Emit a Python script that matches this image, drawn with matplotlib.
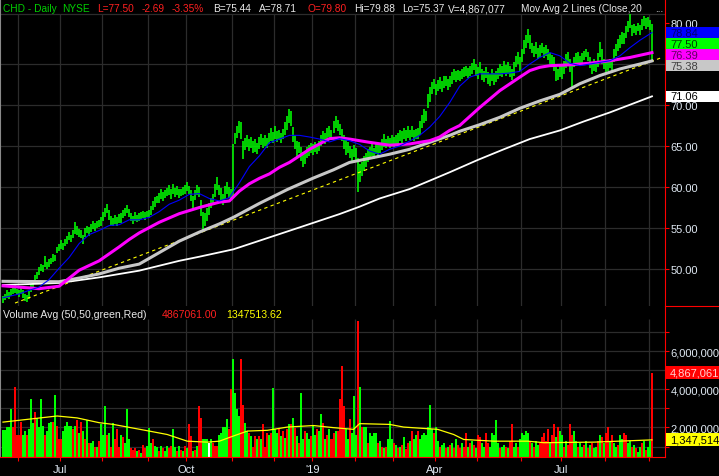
import matplotlib
matplotlib.use("Agg")
import matplotlib.pyplot as plt
from matplotlib.lines import Line2D
from matplotlib.patches import Rectangle
from matplotlib.ticker import FuncFormatter

plt.rcParams["font.family"] = ["Liberation Sans", "DejaVu Sans"]

W, H = 719, 477

# daily bars, index 0 = first session shown (late May 2018)
bar_low = [
    45.9, 46.2, 46.5, 46.3, 46.7, 46.9, 47.1, 46.8, 46.6, 46.9,
    46.5, 46.1, 46.0, 46.4, 47.2, 47.8, 48.4, 48.8, 49.3, 49.8,
    49.6, 50.2, 50.0, 50.3, 50.6, 50.9, 51.0, 51.9, 52.2, 52.5,
    52.3, 52.8, 53.1, 53.5, 53.3, 53.8, 54.3, 54.2, 53.9, 53.8,
    53.0, 53.9, 54.4, 54.0, 54.5, 54.9, 54.6, 55.0, 55.1, 55.3,
    55.8, 56.3, 56.8, 56.0, 55.4, 55.2, 55.5, 55.3, 55.6, 55.6,
    56.2, 56.5, 56.8, 56.4, 55.8, 55.5, 55.9, 55.7, 55.9, 56.1,
    56.2, 56.0, 56.3, 56.2, 56.6, 57.2, 57.6, 58.0, 58.1, 58.6,
    58.3, 58.7, 58.9, 59.0, 58.6, 59.2, 58.8, 59.0, 58.7, 58.9,
    59.0, 59.2, 59.5, 59.1, 58.3, 57.4, 58.4, 59.0, 58.8, 56.5,
    54.7, 55.2, 55.8, 56.6, 57.4, 58.0, 58.8, 59.6, 59.0, 58.4,
    57.8, 58.6, 59.2, 58.7, 58.5, 58.9, 65.2, 66.0, 66.6, 65.8,
    63.4, 64.5, 64.9, 64.4, 64.8, 64.1, 64.3, 64.0, 64.6, 65.1,
    64.8, 65.0, 64.7, 65.3, 65.6, 65.4, 65.9, 65.5, 65.7, 65.4,
    65.8, 66.3, 67.0, 67.8, 67.4, 65.5, 64.6, 63.7, 64.2, 63.2,
    62.4, 62.8, 63.5, 63.8, 64.1, 63.9, 64.3, 64.0, 64.4, 65.0,
    65.5, 65.3, 65.8, 66.1, 65.9, 66.6, 67.2, 66.8, 66.3, 65.6,
    64.6, 63.9, 64.2, 63.5, 63.0, 63.7, 63.3, 59.4, 60.6, 61.3,
    62.0, 62.5, 63.0, 63.5, 63.8, 63.4, 64.0, 63.8, 64.2, 64.5,
    64.9, 64.7, 65.0, 64.8, 65.1, 64.9, 65.2, 65.3, 65.6, 65.4,
    65.9, 65.6, 66.0, 65.7, 66.1, 65.6, 65.9, 65.8, 66.4, 67.2,
    67.8, 68.0, 69.6, 70.4, 71.4, 71.9, 71.2, 71.7, 72.0, 71.6,
    72.1, 72.3, 71.8, 72.2, 72.6, 73.0, 72.8, 73.1, 72.9, 73.2,
    73.4, 73.6, 73.3, 73.5, 73.8, 74.3, 73.6, 73.2, 73.9, 73.0,
    72.8, 73.3, 72.6, 72.3, 72.9, 72.5, 72.8, 73.2, 73.6, 73.4,
    73.9, 73.5, 73.8, 73.4, 73.0, 73.6, 74.6, 75.0, 74.2, 75.3,
    76.2, 77.0, 77.6, 76.8, 76.3, 75.8, 76.2, 75.6, 75.9, 76.3,
    75.7, 76.0, 75.5, 75.0, 74.6, 74.2, 72.9, 73.0, 73.4, 73.2,
    73.8, 74.5, 74.9, 74.0, 72.0, 74.6, 74.9, 75.1, 74.8, 75.0,
    75.5, 75.8, 75.4, 74.5, 73.8, 74.2, 74.0, 74.6, 75.8, 75.0,
    74.4, 73.8, 74.1, 74.5, 74.2, 75.2, 76.0, 76.6, 77.0, 77.5,
    77.4, 78.2, 78.9, 79.4, 78.4, 78.8, 78.5, 79.0, 78.6, 79.2,
    79.6, 79.3, 79.5, 79.1, 75.37,
]
bar_high = [
    46.7, 47.0, 47.4, 47.2, 47.6, 47.9, 48.0, 47.6, 47.5, 47.7,
    47.4, 46.9, 46.8, 47.3, 48.2, 48.7, 49.3, 49.6, 50.2, 50.6,
    50.5, 51.6, 50.9, 51.2, 51.4, 51.8, 51.7, 52.7, 53.0, 53.5,
    53.2, 53.7, 54.0, 54.5, 54.2, 54.8, 55.7, 55.3, 54.9, 54.8,
    54.2, 55.0, 55.3, 55.1, 55.5, 55.9, 55.6, 55.8, 56.0, 56.3,
    56.9, 57.5, 57.9, 57.2, 56.5, 56.2, 56.6, 56.3, 56.7, 56.8,
    57.2, 57.5, 57.8, 57.3, 56.8, 56.5, 56.9, 56.6, 56.8, 56.9,
    57.1, 57.0, 57.1, 57.2, 57.7, 58.3, 58.8, 58.9, 59.3, 59.8,
    59.4, 59.6, 59.9, 60.2, 59.8, 60.4, 59.9, 60.1, 59.7, 59.8,
    60.0, 60.3, 60.6, 60.1, 59.6, 58.9, 59.6, 60.2, 60.0, 58.4,
    57.0, 56.8, 57.4, 58.0, 58.7, 59.2, 60.4, 61.2, 60.3, 59.9,
    59.2, 60.1, 60.6, 60.0, 59.8, 65.3, 66.6, 67.5, 68.1, 67.9,
    65.6, 66.0, 66.3, 65.9, 66.1, 65.6, 65.8, 65.4, 66.1, 66.5,
    66.0, 66.3, 66.0, 66.6, 67.2, 66.7, 67.4, 66.8, 67.0, 66.6,
    67.1, 67.9, 68.7, 69.5, 69.3, 67.3, 66.3, 65.6, 65.5, 64.9,
    64.3, 64.4, 64.9, 65.1, 65.4, 65.2, 65.5, 65.3, 65.6, 66.3,
    66.8, 66.6, 67.2, 67.4, 67.0, 68.0, 68.7, 68.2, 67.7, 67.1,
    66.4, 65.7, 65.5, 65.0, 64.6, 65.1, 64.7, 63.5, 62.8, 63.1,
    63.8, 64.2, 64.6, 64.9, 65.3, 64.8, 65.5, 65.1, 65.4, 65.9,
    66.5, 65.9, 66.2, 66.0, 66.4, 66.1, 66.3, 66.6, 67.0, 66.8,
    67.2, 66.9, 67.5, 67.0, 67.4, 67.0, 67.1, 67.2, 68.0, 68.8,
    69.5, 69.3, 71.4, 72.2, 72.8, 73.2, 72.6, 73.1, 73.4, 72.9,
    73.5, 73.6, 73.2, 73.5, 74.0, 74.4, 74.1, 74.3, 74.2, 74.4,
    74.6, 74.8, 74.5, 74.7, 75.1, 75.6, 75.0, 74.6, 75.2, 74.4,
    74.1, 74.6, 74.0, 73.8, 74.4, 73.9, 74.1, 74.5, 75.0, 74.8,
    75.4, 74.9, 75.2, 74.7, 74.4, 75.2, 76.0, 76.5, 75.8, 76.8,
    77.9, 78.6, 79.3, 78.5, 77.6, 77.2, 77.7, 77.0, 77.3, 77.6,
    77.1, 77.3, 76.8, 76.4, 76.1, 75.8, 74.6, 74.4, 74.8, 74.7,
    75.4, 76.2, 76.5, 75.6, 74.9, 75.9, 76.3, 76.5, 76.0, 76.3,
    76.6, 76.8, 76.5, 75.9, 75.3, 75.6, 75.4, 76.3, 77.7, 76.8,
    75.6, 75.2, 75.5, 75.6, 75.5, 76.8, 77.5, 78.0, 78.6, 78.9,
    78.8, 79.6, 80.3, 81.1, 79.8, 79.9, 79.6, 80.0, 79.8, 80.5,
    80.8, 80.6, 80.7, 80.4, 79.88,
]

# volume in millions of shares, and the bar colour code (G up, R down, W flat)
volume_m = [
    1.85, 1.85, 2.0, 2.0, 2.95, 2.0, 4.1, 1.6, 1.6, 2.3,
    1.6, 1.8, 1.6, 1.9, 3.5, 2.25, 2.8, 2.5, 2.0, 3.5,
    2.07, 1.6, 1.8, 2.25, 2.3, 2.3, 3.7, 2.1, 1.4, 1.37,
    1.8, 2.07, 2.3, 2.07, 2.07, 1.9, 2.07, 2.4, 1.72, 2.3,
    1.8, 1.37, 2.4, 1.2, 1.2, 1.3, 1.0, 1.0, 1.3, 2.2,
    1.6, 3.1, 1.6, 1.72, 1.0, 2.25, 1.37, 1.9, 1.0, 1.6,
    1.5, 1.2, 2.95, 1.37, 0.93, 0.84, 0.93, 0.75, 0.84, 0.66,
    1.1, 0.93, 1.02, 1.97, 1.2, 1.37, 1.02, 1.0, 0.75, 1.02,
    0.93, 0.75, 1.02, 0.93, 1.02, 1.9, 1.0, 0.75, 1.02, 0.84,
    0.75, 1.02, 0.93, 2.16, 1.55, 0.75, 0.84, 1.02, 3.1, 2.5,
    1.37, 1.37, 1.37, 1.2, 1.37, 1.2, 1.02, 1.02, 1.6, 1.72,
    2.0, 2.0, 2.42, 1.9, 4.0, 5.6, 3.8, 2.95, 2.6, 5.58,
    3.2, 2.25, 1.8, 1.72, 1.55, 1.0, 1.55, 1.37, 1.55, 1.37,
    2.16, 1.0, 1.72, 1.6, 1.72, 4.09, 1.9, 1.72, 1.97, 1.55,
    1.8, 1.45, 1.9, 2.16, 2.16, 2.5, 1.97, 1.55, 1.2, 3.83,
    1.37, 1.8, 1.72, 1.37, 1.55, 2.07, 1.6, 1.9, 1.8, 2.68,
    2.25, 1.37, 1.6, 1.9, 1.37, 1.72, 1.8, 1.8, 3.47, 5.23,
    3.12, 1.9, 1.37, 2.42, 1.7, 3.65, 1.6, 7.6,
    4.1, 2.0, 2.0, 2.0, 1.2, 1.72, 1.55, 1.7, 1.7, 1.2, 1.3, 1.0,
    0.9, 1.0, 1.4, 2.33, 1.4, 1.2, 1.1, 0.9, 1.0, 1.1,
    1.5, 0.85, 1.2, 1.3, 1.8, 1.4, 1.6, 1.8, 1.4, 1.6,
    1.7, 1.6, 2.0, 3.2, 1.9, 1.7, 2.0, 1.3, 1.0, 1.1,
    1.2, 0.9, 1.0, 1.1, 1.2, 0.9, 1.4, 1.1, 0.9, 1.2,
    1.0, 1.72, 1.0, 1.2, 1.3, 1.1, 0.9, 1.6, 1.5, 1.2,
    1.0, 1.7, 1.2, 1.0, 1.72, 1.6, 2.4, 1.2, 0.9, 1.0,
    1.1, 1.0, 0.9, 1.3, 2.16, 1.0, 1.2, 1.0, 1.4, 1.7,
    1.6, 1.8, 1.7, 1.3, 1.2, 1.0, 1.3, 1.1, 1.2, 1.5,
    1.7, 1.3, 1.9, 1.2, 1.6, 2.16, 1.5, 2.0, 1.8, 1.6,
    1.0, 1.3, 1.1, 2.16, 1.6, 1.8, 1.3, 1.0, 1.2, 1.0,
    1.1, 1.3, 0.9, 1.1, 1.2, 0.9, 1.0, 1.3, 1.6, 1.5,
    1.2, 1.7, 2.0, 1.3, 1.6, 1.2, 1.0, 1.1, 1.6, 1.4,
    1.7, 1.6, 1.2, 1.3, 1.0, 1.1, 0.9, 0.7, 1.0, 1.2,
    1.3, 0.8, 1.0, 1.3, 4.867061,
]
volume_dir = (
    "GGGGGRRRRR" "GGRGGGRGGG" "GRGGGRGRRR" "GGGGGRGRGR" "GRGRGGRGRG"
    "GGRGRGRRRG" "RGGGRRRGRG" "RRGGGRGGRG" "RGGRRGGRGR" "GRGRRGRGRR"
    "GGGWGRRRGG" "GGGRRGGGGR" "RGGRGRRGRG" "RRRGRGGGRG" "RGRGRGRGRG"
    "GRGGRGGRGG" "RGRGRRGRRR" "RGGRGGGR" "GRGGRGGGGRGR"
    "GRGGGRGRGR" "GRRGRGGRGG" "GGGGGRGGRG" "GRGRGRGRRG" "RRGRGRGRRG"
    "GRRGGGGGRG" "GRGRRGGRGG" "GGGRGRGGRR" "RRRGRRGRGG" "RGRRRGGRGG"
    "RGRGRGGRGR" "GRRGRGGRGG" "RRGGRGRGGR" "GRGGR"
)

# moving averages (bar index, price)
ma20_x = [0, 8, 13, 18, 23, 28, 33, 38, 43, 48, 53, 58, 63, 68, 73, 78, 83, 88, 93, 98,
          103, 108, 113, 118, 123, 128, 133, 138, 143, 148, 153, 158, 163, 168, 173, 178,
          183, 188, 193, 198, 203, 208, 213, 218, 223, 228, 233, 238, 243, 248, 253, 258,
          263, 268, 273, 278, 283, 288, 293, 298, 303, 308, 313, 318, 324]
ma20 = [46.5, 46.95, 47.4, 47.8, 48.7, 50.1, 51.4, 53.1, 54.2, 54.7, 55.3, 55.4, 56.0, 56.0,
        56.3, 57.0, 57.9, 58.4, 59.1, 59.2, 58.6, 58.3, 58.7, 60.5, 62.5, 63.8, 65.4, 65.85,
        66.3, 66.3, 66.1, 65.85, 65.5, 65.9, 65.65, 65.2, 64.4, 64.0, 64.6, 65.0, 65.6, 66.3,
        67.3, 68.6, 70.3, 72.3, 73.4, 73.8, 73.8, 73.8, 73.9, 74.1, 75.0, 75.8, 76.4, 76.0,
        75.1, 74.8, 75.0, 75.2, 75.4, 76.0, 77.0, 77.9, 78.84]
ma50_x = [0, 18, 28, 38, 48, 58, 63, 68, 78, 88, 98, 108, 113, 118, 123, 128, 133, 138, 143,
          148, 153, 158, 163, 168, 173, 183, 193, 203, 208, 213, 218, 223, 228, 238, 248, 258,
          263, 268, 273, 283, 293, 303, 313, 324]
ma50 = [47.95, 47.6, 47.9, 49.85, 51.0, 52.7, 53.6, 54.4, 55.7, 56.75, 57.5, 58.15, 58.3, 59.5,
        60.4, 61.06, 61.6, 62.4, 63.0, 63.8, 64.6, 65.25, 65.9, 66.0, 65.85, 65.45, 65.1, 65.25,
        65.45, 65.65, 66.1, 66.9, 67.5, 69.7, 71.75, 73.4, 74.2, 74.6, 74.8, 74.9, 75.1, 75.4,
        75.8, 76.39]
ma100_x = [0, 28, 38, 48, 58, 68, 78, 88, 98, 108, 115, 128, 142, 155, 165, 173, 183, 193, 203,
           213, 223, 228, 238, 248, 258, 268, 278, 288, 298, 308, 318, 324]
ma100 = [48.5, 48.45, 48.9, 49.4, 50.1, 50.6, 52.0, 53.4, 54.5, 55.5, 56.3, 58.0, 59.7, 61.1,
         62.1, 63.0, 63.5, 64.0, 64.6, 65.45, 66.3, 66.8, 67.6, 68.5, 69.6, 70.5, 71.3, 72.6,
         73.6, 74.4, 75.0, 75.38]
ma200_x = [0, 28, 48, 68, 88, 98, 115, 128, 148, 168, 178, 188, 203, 213, 223, 237, 250, 263,
           278, 290, 303, 324]
ma200 = [48.05, 48.3, 48.98, 49.8, 51.0, 51.5, 52.4, 53.45, 55.07, 56.7, 57.6, 58.6, 59.75,
         60.77, 61.8, 63.3, 64.6, 65.85, 66.9, 68.0, 69.1, 71.06]
trend_x = [6, 329]
trend_y = [45.85, 75.8]

vol_avg_x = [0, 27, 37, 48, 55, 73, 82, 92, 102, 108, 115, 122, 132, 142, 155, 165, 175, 178,
             193, 200, 217, 225, 230, 245, 262, 270, 295, 324]
vol_avg = [2.28, 2.6, 2.5, 2.25, 2.16, 1.81, 1.63, 1.28, 1.23, 1.28, 1.55, 1.81, 1.85, 2.02,
           2.1, 1.99, 1.9, 2.2, 2.16, 2.02, 1.9, 1.63, 1.37, 1.28, 1.28, 1.2, 1.23, 1.347514]

# first session of each month (bar boundaries)
month_x = [7.5, 28.5, 49.5, 72.5, 91.5, 114.5, 135.5, 154.5, 175.5, 194.5, 215.5, 236.5,
           258.5, 278.5, 300.5, 322.5]
month_labels = ["", "Jul", "", "", "Oct", "", "", "'19", "", "", "Apr", "", "", "Jul", "", ""]
price_ticks = [50, 55, 60, 65, 70, 75, 80]
volume_ticks = [1, 2, 3, 4, 5, 6, 7]

last_close = 77.50

GRID = "#2c2c2c"
AXIS_RED = "#ff0000"
LABEL = "#dfe8f2"
UP = "#00ff00"
DOWN = "#ff0000"
dir_colors = {"G": UP, "R": DOWN, "W": "#ffffff"}

fig = plt.figure(figsize=(W / 100, H / 100), dpi=100, facecolor="black")
ax_p = fig.add_axes([0, 1 - 307 / H, 665 / W, 307 / H], facecolor="black")
ax_v = fig.add_axes([0, 1 - 458 / H, 665 / W, 151 / H], facecolor="black")

x_lo, x_hi = -1.5, 330.5
p_lo, p_hi = 45.49, 82.93
v_lo, v_hi = 0.45, 8.37

# ---- price panel
ax_p.set_xlim(x_lo, x_hi)
ax_p.set_ylim(p_lo, p_hi)
ax_p.vlines(month_x, p_lo, 81.1, color=GRID, lw=0.9, zorder=0)
ax_p.hlines(price_ticks[:-1], x_lo, x_hi, color=GRID, lw=0.9, zorder=0)
ax_p.axhline(81.1, color=GRID, lw=0.9, zorder=0)

bars = list(range(len(bar_low)))
ax_p.vlines(bars, bar_low, bar_high, color=UP, lw=1.15, zorder=2)

ax_p.plot(trend_x, trend_y, color="#ffff00", lw=0.8, dashes=(3, 3), zorder=3)
ax_p.plot(ma200_x, ma200, color="white", lw=1.3, zorder=3)
ax_p.plot(ma100_x, ma100, color="#c8c8c8", lw=2.2, zorder=3)
ax_p.plot(ma50_x, ma50, color="#ff00ff", lw=2.2, zorder=4)
ax_p.plot(ma20_x, ma20, color="#0000ff", lw=0.8, zorder=5)

ax_p.set_xticks([])
ax_p.yaxis.tick_right()
ax_p.set_yticks(price_ticks)
ax_p.yaxis.set_major_formatter(FuncFormatter(lambda v, _: f"{v:.2f}"))
ax_p.tick_params(axis="y", length=3, width=0.8, color=AXIS_RED, labelcolor=LABEL,
                 labelsize=8, pad=1)

# ---- volume panel
ax_v.set_xlim(x_lo, x_hi)
ax_v.set_ylim(v_lo, v_hi)
ax_v.vlines(month_x, v_lo, 7.7, color=GRID, lw=0.9, zorder=0)
ax_v.hlines(volume_ticks, x_lo, x_hi, color=GRID, lw=0.9, zorder=0)
ax_v.bar(bars, volume_m, width=1.0, bottom=0, color=[dir_colors[c] for c in volume_dir],
         linewidth=0, zorder=2)
ax_v.plot(vol_avg_x, vol_avg, color="#ffff00", lw=0.9, zorder=3)

ax_v.yaxis.tick_right()
ax_v.set_yticks(volume_ticks)
ax_v.yaxis.set_major_formatter(
    FuncFormatter(lambda v, _: f"{int(round(v * 1e6)):,}" if int(round(v)) % 2 == 0 else ""))
ax_v.tick_params(axis="y", length=3, width=0.8, color=AXIS_RED, labelcolor=LABEL,
                 labelsize=8, pad=1)
ax_v.set_xticks(month_x)
ax_v.set_xticklabels(month_labels)
ax_v.tick_params(axis="x", length=3, width=0.8, color=AXIS_RED, labelcolor=LABEL,
                 labelsize=8, pad=2)

for ax in (ax_p, ax_v):
    ax.spines["top"].set_visible(False)
    ax.spines["left"].set_color("#8a8a8a")
    ax.spines["right"].set_color(AXIS_RED)
    ax.spines["right"].set_linewidth(0.8)
ax_p.spines["bottom"].set_visible(False)
ax_v.spines["bottom"].set_color(AXIS_RED)
ax_v.spines["bottom"].set_linewidth(0.8)

fig.add_artist(Line2D([665 / W, 1], [1 - 307 / H] * 2, color=AXIS_RED, lw=0.8))


def value_boxes(ax, items, h=11):
    # items top to bottom; a box that would overlap the one above is pushed down
    prev_bottom = None
    for value, text, face, fg in items:
        y = ax.transData.transform((0, value))[1]
        top = y + h / 2
        if prev_bottom is not None and top > prev_bottom:
            top = prev_bottom
        prev_bottom = top - h
        fig.add_artist(Rectangle((665.5 / W, (top - h) / H), 54 / W, h / H,
                                 transform=fig.transFigure, facecolor=face,
                                 edgecolor="none", zorder=5))
        fig.text(670 / W, (top - h / 2) / H, text, color=fg, fontsize=8, va="center",
                 ha="left", zorder=6)


value_boxes(ax_p, [
    (ma20[-1], f"{ma20[-1]:.2f}", "#0000ff", "#000070"),
    (last_close, f"{last_close:.2f}", UP, "#004000"),
    (ma50[-1], f"{ma50[-1]:.2f}", "#ff00ff", "#600060"),
    (ma100[-1], f"{ma100[-1]:.2f}", "#c8c8c8", "#404040"),
    (ma200[-1], f"{ma200[-1]:.2f}", "white", "black"),
])
value_boxes(ax_v, [
    (volume_m[-1], f"{int(round(volume_m[-1] * 1e6)):,}", DOWN, "#ffd0d0"),
    (vol_avg[-1], f"{int(round(vol_avg[-1] * 1e6)):,}", "#ffff00", "black"),
], h=13)

# ---- header texts
title_parts = [
    (3, "CHD - Daily", "#00d000"), (62, "NYSE", "#00d000"), (97, "L=77.50", "#ff2020"),
    (142, "-2.69", "#ff2020"), (172, "-3.35%", "#ff2020"), (213, "B=75.44", "#e8e8e8"),
    (259, "A=78.71", "#e8e8e8"), (307, "O=79.80", "#ff2020"), (354, "Hi=79.88", "#e8e8e8"),
    (402, "Lo=75.37", "#e8e8e8"), (448, "V=4,867,077", "#e8e8e8"),
    (521, "Mov Avg 2 Lines (Close,20", "#e8e8e8"), (655, "...", "#e8e8e8"),
]
for x, txt, col in title_parts:
    fig.text(x / W, 1 - 9 / H, txt, color=col, fontsize=7.3, va="center", ha="left")

vol_parts = [
    (3, "Volume Avg (50,50,green,Red)", "#e8e8e8"),
    (162, "4867061.00", "#ff2020"),
    (226, "1347513.62", "#ffff00"),
]
for x, txt, col in vol_parts:
    fig.text(x / W, 1 - 315 / H, txt, color=col, fontsize=7.6, va="center", ha="left")

fig.savefig("out.png", dpi=100, facecolor="black")
